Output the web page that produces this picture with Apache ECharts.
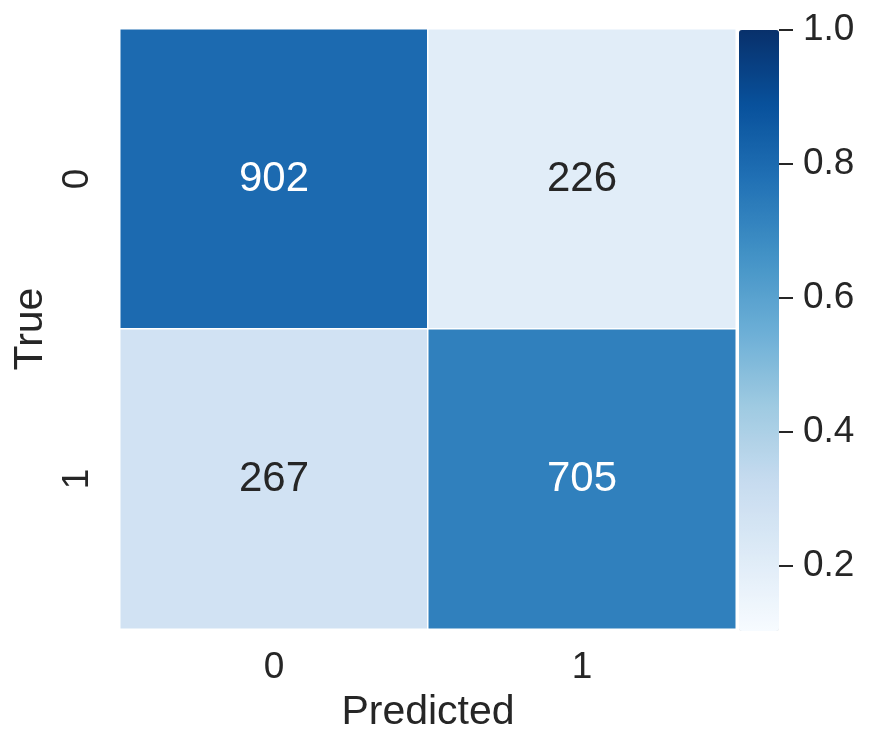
<!DOCTYPE html>
<html>
<head>
<meta charset="utf-8">
<script src="https://cdn.jsdelivr.net/npm/echarts@6/dist/echarts.min.js"></script>
<style>
  html, body { margin: 0; padding: 0; background: #fff; }
  #main { width: 871px; height: 750px; }
</style>
</head>
<body>
<div id="main"></div>
<script>
// confusion matrix (rows = true, cols = predicted)
var predLabels = ['0', '1'];
var trueLabels = ['0', '1'];
var counts = [[902, 226], [267, 705]];
// row-normalised rates used for the colour
var rates = [[0.80, 0.20], [0.275, 0.725]];
var cbarTicks = [0.2, 0.4, 0.6, 0.8, 1.0];
var cbarMin = 0.103, cbarMax = 1.0;

var blues = ['#f7fbff', '#deebf7', '#c6dbef', '#9ecae1', '#6baed6', '#4292c6', '#2171b5', '#08519c', '#08306b'];
var txt = '#262626';
var FONT = 'Liberation Sans, Arial, sans-serif';

var cells = [];
for (var i = 0; i < trueLabels.length; i++) {
    for (var j = 0; j < predLabels.length; j++) {
        var dark = rates[i][j] > 0.55;
        cells.push({
            value: [j, i, rates[i][j]],
            count: counts[i][j],
            label: { color: dark ? '#ffffff' : txt }
        });
    }
}

var myChart = echarts.init(document.getElementById('main'));
myChart.setOption({
    animation: false,
    textStyle: { fontFamily: FONT },
    grid: [
        { left: 120, top: 29, width: 616, height: 600, outerBoundsMode: 'none' },
        { left: 739, top: 30, width: 40, height: 601, outerBoundsMode: 'none' }   // colorbar axis
    ],
    xAxis: [
        {
            type: 'category', data: predLabels, gridIndex: 0,
            axisLine: { show: false }, axisTick: { show: false }, splitLine: { show: false },
            axisLabel: { color: txt, fontSize: 37, margin: 20, fontFamily: FONT },
            name: 'Predicted', nameLocation: 'middle', nameGap: 63,
            nameTextStyle: { color: txt, fontSize: 41, fontFamily: FONT }
        },
        { type: 'value', gridIndex: 1, show: false }
    ],
    yAxis: [
        {
            type: 'category', data: trueLabels, gridIndex: 0, inverse: true,
            axisLine: { show: false }, axisTick: { show: false }, splitLine: { show: false },
            axisLabel: { color: txt, fontSize: 37, margin: 24, rotate: 90, fontFamily: FONT },
            name: 'True', nameLocation: 'middle', nameGap: 69, nameRotate: 90,
            nameTextStyle: { color: txt, fontSize: 41, fontFamily: FONT }
        },
        {
            type: 'value', gridIndex: 1, position: 'right', min: cbarMin, max: cbarMax,
            axisLine: { show: true, onZero: false, lineStyle: { color: 'rgba(0,0,0,0)' } },
            splitLine: { show: false },
            axisTick: { show: true, inside: false, length: 14, customValues: cbarTicks, lineStyle: { color: txt, width: 2 } },
            axisLabel: {
                customValues: cbarTicks, color: txt, fontSize: 37, margin: 24, fontFamily: FONT,
                formatter: function (v) { return v.toFixed(1); }
            }
        }
    ],
    visualMap: {
        type: 'continuous', min: cbarMin, max: cbarMax, seriesIndex: 0,
        calculable: false, text: null, showLabel: false,
        left: 739, top: 30, itemWidth: 40, itemHeight: 601, padding: 0,
        inRange: { color: blues },
        hoverLink: false
    },
    series: [{
        type: 'heatmap',
        xAxisIndex: 0, yAxisIndex: 0,
        data: cells,
        itemStyle: { borderColor: '#ffffff', borderWidth: 1.5 },
        label: {
            show: true, fontSize: 42, fontFamily: FONT,
            formatter: function (p) { return p.data.count; }
        },
        emphasis: { disabled: true }
    }]
});
</script>
</body>
</html>
